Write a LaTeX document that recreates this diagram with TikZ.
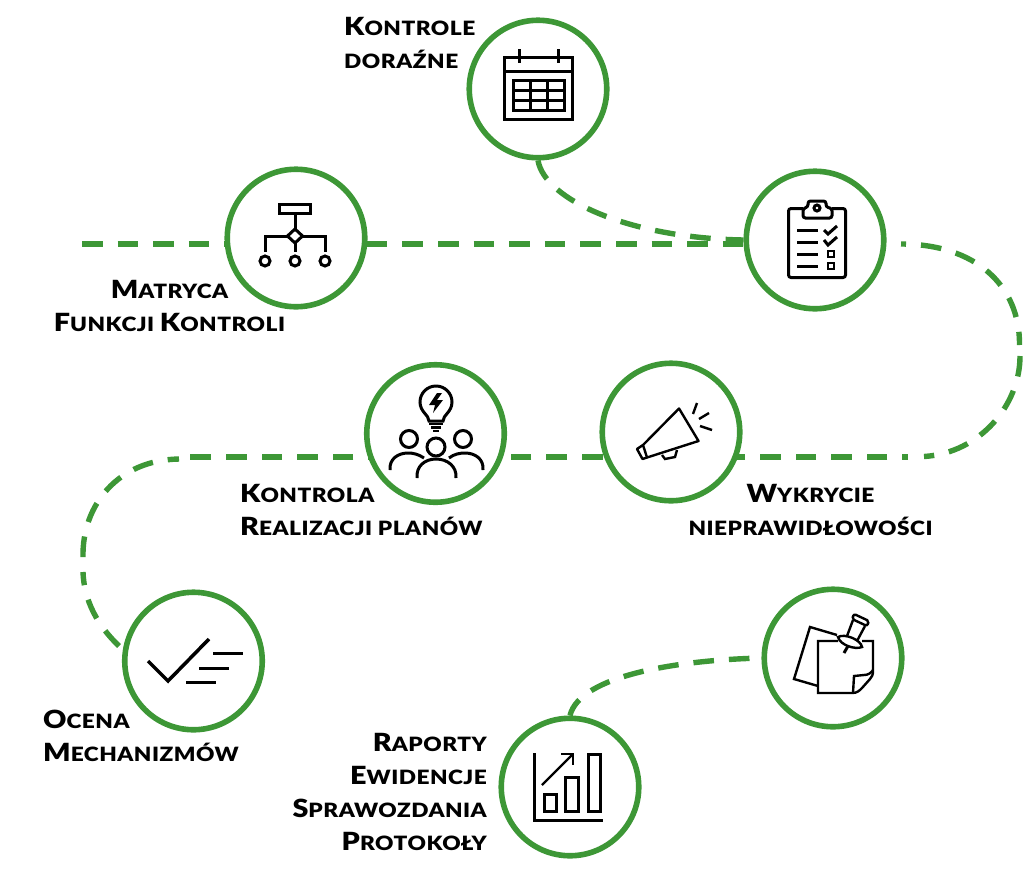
\documentclass[tikz,border=0pt]{standalone}
\usepackage{fontspec}
\setmainfont{Lato}[BoldFont={Lato Black}, BoldFeatures={FakeStretch=1.15, LetterSpace=2.5}]
\usetikzlibrary{backgrounds}
\definecolor{ringgreen}{RGB}{61,151,54}
\newcommand{\capword}[2]{{\fontsize{25}{33}\selectfont #1}#2}
\tikzset{
    ring/.style={circle, draw=ringgreen, line width=5.6pt, fill=white, minimum size=137.5pt, inner sep=0pt},
    dashline/.style={draw=ringgreen, line width=5.4pt, dash pattern=on 20.6pt off 15pt},
    iconline/.style={draw=black, line width=3pt},
    thinicon/.style={draw=black, line width=2.4pt},
    labeltext/.style={font=\bfseries\fontsize{19.7}{33}\selectfont, inner sep=0pt}
}

\begin{document}
\begin{tikzpicture}[x=1pt, y=-1pt]
        \useasboundingbox (0, 0) rectangle (1024, 873);
        \node[ring] (calendar) at (538, 89) {};
        \node[ring] (clipboard) at (815, 240) {};
        \node[ring] (matrix) at (296, 238) {};
        \node[ring] (people) at (435.5, 433.5) {};
        \node[ring] (megaphone) at (671, 432) {};
        \node[ring] (check) at (193.5, 661) {};
        \node[ring] (note) at (833, 658) {};
        \node[ring] (chart) at (570, 787) {};
        \coordinate (rowA) at (82, 244);
        \coordinate (rightA) at (901, 244);
        \coordinate (rightB) at (1019.5, 345);
        \coordinate (rightC) at (1020, 356);
        \coordinate (rightD) at (924, 456.5);
        \coordinate (rowB) at (908, 457);
        \coordinate (rowC) at (181, 457);
        \coordinate (leftA) at (179, 459);
        \coordinate (leftB) at (83, 557);
        \coordinate (leftC) at (83, 572);
        \coordinate (leftD) at (119, 646);
        \begin{pgfonlayer}{background}
            \draw[dashline] (rowA) -- (rowA -| clipboard.west);
            \draw[dashline] (calendar.south) .. controls (545, 200) and (630, 238) .. (clipboard.west);
            \draw[dashline, dash phase=15.6pt] (rightA) .. controls (975, 244) and (1020, 285) .. (rightB);
            \draw[dashline] (rightC) .. controls (1020, 405) and (980, 453) .. (rightD);
            \draw[dashline, dash phase=15pt] (rowB) -- (rowC);
            \draw[dashline] (leftB) .. controls (82, 505) and (118, 460) .. (leftA);
            \draw[dashline] (leftD) .. controls (97, 625) and (84, 600) .. (leftC);
            \draw[dashline, dash phase=23.6pt] (note.west) .. controls (680, 660) and (580, 675) .. (chart.north);
        \end{pgfonlayer}
        % labels
        \node[labeltext, anchor=base west, align=left] (labelA) at (344, 68) {\capword{K}{ONTROLE}\\DORAŹNE};
        \node[labeltext, anchor=base, align=center] (labelB) at (169.5, 331) {\capword{M}{ATRYCA}\\\capword{F}{UNKCJI} \capword{K}{ONTROLI}};
        \node[labeltext, anchor=base west, align=left] (labelC) at (240, 535) {\capword{K}{ONTROLA}\\\capword{R}{EALIZACJI PLANÓW}};
        \node[labeltext, anchor=base, align=center] (labelD) at (810.5, 535) {\capword{W}{YKRYCIE}\\NIEPRAWIDŁOWOŚCI};
        \node[labeltext, anchor=base west, align=left] (labelE) at (43, 761) {\capword{O}{CENA}\\\capword{M}{ECHANIZMÓW}};
        \node[labeltext, anchor=base east, align=right] (labelF) at (487, 850) {\capword{R}{APORTY}\\\capword{E}{WIDENCJE}\\\capword{S}{PRAWOZDANIA}\\\capword{P}{ROTOKOŁY}};
        % calendar
        \draw[iconline] (504.5, 57.5) rectangle (572.5, 119.5);
        \draw[iconline] (504.5, 71) -- (572.5, 71);
        \draw[iconline] (519, 49) -- (519, 63); \draw[iconline] (558, 49) -- (558, 63);
        \draw[iconline] (513.5, 80.5) rectangle (564.5, 110.5);
        \draw[iconline] (513.5, 90.5) -- (564.5, 90.5); \draw[iconline] (513.5, 100.5) -- (564.5, 100.5);
        \draw[iconline] (530, 80.5) -- (530, 110.5); \draw[iconline] (547, 80.5) -- (547, 110.5);
        % clipboard
        \draw[iconline, rounded corners=2.5pt] (803, 208.5) -- (788.5, 208.5) -- (788.5, 277.5) -- (845.5, 277.5) -- (845.5, 208.5) -- (832, 208.5);
        \draw[iconline, rounded corners=2.5pt] (803, 218) -- (803, 208.5) -- (808, 207) -- (808, 201) -- (826, 201) -- (826, 207) -- (832, 208.5) -- (832, 218) -- cycle;
        \draw[iconline] (817, 208) circle[radius=3];
        \foreach \y in {230, 242, 254, 266} {
            \draw[iconline] (797, \y) -- (818, \y);
        }
        \draw[iconline] (824, 230) -- (828, 234) -- (837, 226);
        \draw[iconline] (824, 240) -- (828, 245) -- (837, 237);
        \draw[thinicon] (828, 251) rectangle (834, 257);
        \draw[thinicon] (828, 263) rectangle (834, 269);
        % matrix
        \draw[iconline] (279.5, 204.5) rectangle (310.5, 213.5);
        \draw[iconline] (295, 215) -- (295, 229);
        \draw[iconline] (295, 229) -- (302.5, 236) -- (295, 243) -- (287.5, 236) -- cycle;
        \draw[iconline] (287.5, 236) -- (265, 236) -- (265, 252);
        \draw[iconline] (302.5, 236) -- (325, 236) -- (325, 252);
        \draw[iconline] (295, 243) -- (295, 252);
        \foreach \x in {265, 295, 325} {
            \draw[iconline] (\x, 261) circle[radius=5];
        }
        % people
        \draw[iconline] (429, 421) .. controls (429, 415) and (420, 412) .. (420, 402) arc[start angle=180, end angle=360, radius=16] .. controls (452, 412) and (443, 415) .. (443, 421) -- cycle;
        \draw[thinicon] (429, 424) -- (443, 424); \draw[thinicon] (431, 427.5) -- (441, 427.5); \draw[thinicon] (433, 431) -- (439, 431);
        \fill (437, 393) -- (429, 405) -- (435, 405) -- (433, 413) -- (443, 400) -- (437, 400) -- (442, 393) -- cycle;
        \draw[iconline] (409, 439) circle[radius=8.5];
        \draw[iconline] (463, 439) circle[radius=8.5];
        \draw[iconline] (436, 447) circle[radius=9];
        \draw[iconline] (390, 470) .. controls (389, 459) and (398, 453) .. (408, 453) .. controls (413, 453) and (418, 454) .. (424, 458);
        \draw[iconline] (483, 470) .. controls (484, 459) and (475, 453) .. (465, 453) .. controls (460, 453) and (454, 454) .. (449, 458);
        \draw[iconline] (417, 478) .. controls (416, 466) and (425, 459) .. (436, 459) .. controls (447, 459) and (457, 466) .. (456, 478);
        % megaphone
        \draw[thinicon, line join=round] (643, 445) -- (679, 408.5) -- (698.5, 441) -- (647, 457.5) -- cycle;
        \draw[thinicon, line join=round] (643, 445) -- (637, 449) -- (642.5, 459) -- (647, 457.5);
        \draw[thinicon] (662, 455) -- (665, 459) -- (675, 457) -- (677, 450);
        \draw[thinicon] (697, 403) -- (693, 414);
        \draw[thinicon] (709, 413) -- (699, 419);
        \draw[thinicon] (712, 430) -- (700, 426);
        % check
        \draw[iconline, line width=3.5pt] (148, 661) -- (168, 681) -- (209, 639);
        \draw[iconline] (213, 653) -- (243, 653);
        \draw[iconline] (199, 668) -- (229, 668);
        \draw[iconline] (186, 682) -- (216, 682);
        % note
        \draw[thinicon] (837, 635) -- (810, 627) -- (794, 679) -- (818, 686);
        \draw[thinicon] (838, 641) -- (818, 641) -- (818, 693) -- (852, 693) .. controls (857, 693) and (859, 691) .. (862, 688) -- (870, 679) .. controls (872, 677) and (873, 675) .. (873, 670) -- (873, 641) -- (862, 641);
        \draw[thinicon] (853, 693) -- (854, 676) -- (864, 675) .. controls (868, 675) and (871, 673) .. (873, 670);
        \draw[thinicon, rounded corners=2pt] (854, 614) -- (869, 621) -- (867, 626) -- (852, 619) -- cycle;
        \draw[thinicon] (853, 620) -- (847, 636);
        \draw[thinicon] (865, 626) -- (857, 641);
        \draw[thinicon, fill=white] (838, 637) .. controls (845, 633) and (861, 640) .. (862, 647) .. controls (855, 650) and (840, 645) .. (838, 637) -- cycle;
        \draw[iconline] (848, 646) -- (844, 653);
        % chart
        \draw[iconline] (534, 753) -- (534, 820) -- (603, 820);
        \draw[iconline] (544.5, 794.5) rectangle (556.5, 811.5);
        \draw[iconline] (565.5, 777.5) rectangle (578.5, 811.5);
        \draw[iconline] (588.5, 754.5) rectangle (600.5, 811.5);
        \draw[iconline, line width=2.4pt] (542, 785) -- (572, 755);
        \draw[iconline, line width=2.4pt] (561, 754) -- (573, 754) -- (573, 765);
    \end{tikzpicture}
\end{document}
